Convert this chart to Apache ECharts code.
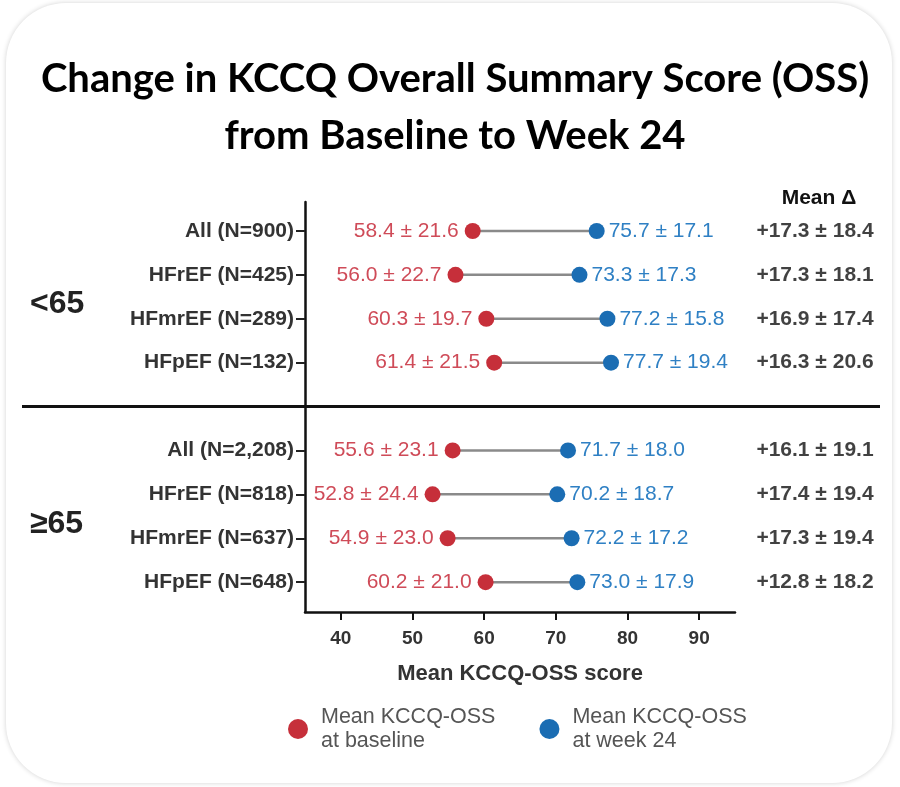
<!DOCTYPE html>
<html>
<head>
<meta charset="utf-8">
<script src="https://cdn.jsdelivr.net/npm/echarts@6/dist/echarts.min.js"></script>
<style>
  html, body { margin: 0; padding: 0; background: #fff; }
  #card {
    position: absolute; left: 6px; top: 3px; width: 886px; height: 780px;
    border-radius: 60px; background: #fff;
    box-shadow: 0 0 5px rgba(0, 0, 0, 0.18);
  }
  #chart { position: absolute; left: 0; top: 0; width: 900px; height: 787px; }
</style>
</head>
<body>
<div id="card"></div>
<div id="chart"></div>
<script>
// ====== Data ======
const categories = [
  'All (N=900)', 'HFrEF (N=425)', 'HFmrEF (N=289)', 'HFpEF (N=132)',
  'All (N=2,208)', 'HFrEF (N=818)', 'HFmrEF (N=637)', 'HFpEF (N=648)'
];
const baselineMean = [58.4, 56.0, 60.3, 61.4, 55.6, 52.8, 54.9, 60.2];
const baselineSD = [21.6, 22.7, 19.7, 21.5, 23.1, 24.4, 23.0, 21.0];
const week24Mean = [75.7, 73.3, 77.2, 77.7, 71.7, 70.2, 72.2, 73.0];
const week24SD = [17.1, 17.3, 15.8, 19.4, 18.0, 18.7, 17.2, 17.9];
const deltaMean = [17.3, 17.3, 16.9, 16.3, 16.1, 17.4, 17.3, 12.8];
const deltaSD = [18.4, 18.1, 17.4, 20.6, 19.1, 19.4, 19.4, 18.2];
const xTicks = [40, 50, 60, 70, 80, 90];

// row slot for each category (slot 4 holds the age divider)
const rows = categories.map((c, i) => (i < 4 ? i : i + 1));

const RED = '#c62f3a';
const BLUE = '#1b6db3';
const FONT = '"Liberation Sans", Arial, sans-serif';

const chart = echarts.init(document.getElementById('chart'));

const yRange = { min: -0.66, max: 8.68 };

const option = {
  backgroundColor: 'transparent',
  animation: false,
  title: [
    {
      text: 'Change in KCCQ Overall Summary Score (OSS)\nfrom Baseline to Week 24',
      left: 450,
      top: 46,
      textAlign: 'center',
      textStyle: {
        fontFamily: 'Lato, "Open Sans", sans-serif',
        fontWeight: 'bold',
        fontSize: 40,
        lineHeight: 57,
        color: '#000'
      }
    },
    {
      text: 'Mean Δ',
      left: 814,
      top: 183,
      textAlign: 'center',
      textStyle: { fontFamily: FONT, fontWeight: 'bold', fontSize: 21, color: '#111' }
    },
    {
      text: '<65',
      left: 25,
      top: 283,
      textStyle: { fontFamily: FONT, fontWeight: 'bold', fontSize: 32, color: '#222' }
    },
    {
      text: '≥65',
      left: 25,
      top: 503,
      textStyle: { fontFamily: FONT, fontWeight: 'bold', fontSize: 32, color: '#222' }
    }
  ],
  legend: {
    left: 283,
    top: 700,
    itemGap: 44,
    itemWidth: 20,
    itemHeight: 20,
    icon: 'circle',
    data: ['Mean KCCQ-OSS\nat baseline', 'Mean KCCQ-OSS\nat week 24'],
    textStyle: { fontFamily: FONT, fontSize: 21.5, lineHeight: 24, color: '#555', padding: [0, 0, 0, 8] }
  },
  grid: [
    { left: 305, top: 202, width: 430, height: 410 },
    { left: 755, top: 202, width: 120, height: 410 }
  ],
  xAxis: [
    {
      gridIndex: 0,
      type: 'value',
      min: 35,
      max: 95,
      splitLine: { show: false },
      axisLine: { show: true, onZero: false, lineStyle: { color: '#111', width: 2.5 } },
      axisTick: { show: true, customValues: xTicks, length: 8, lineStyle: { color: '#111', width: 2 } },
      axisLabel: {
        customValues: xTicks,
        margin: 17,
        fontFamily: FONT,
        fontWeight: 'bold',
        fontSize: 19,
        color: '#333'
      },
      name: 'Mean KCCQ-OSS score',
      nameLocation: 'middle',
      nameGap: 51,
      nameTextStyle: { fontFamily: FONT, fontWeight: 'bold', fontSize: 22, color: '#333' }
    },
    { gridIndex: 1, type: 'value', min: 0, max: 1, show: false }
  ],
  yAxis: [
    {
      gridIndex: 0,
      type: 'value',
      inverse: true,
      min: yRange.min,
      max: yRange.max,
      splitLine: { show: false },
      axisLine: { show: true, onZero: false, lineStyle: { color: '#111', width: 2.5 } },
      axisTick: { show: true, customValues: rows, length: 9, lineStyle: { color: '#222', width: 2 } },
      axisLabel: {
        customValues: rows,
        margin: 11,
        fontFamily: FONT,
        fontWeight: 'bold',
        fontSize: 21,
        color: '#333',
        formatter: (v) => categories[rows.indexOf(Math.round(v))] || ''
      }
    },
    { gridIndex: 1, type: 'value', inverse: true, min: yRange.min, max: yRange.max, show: false }
  ],
  series: [
    {
      // connector between baseline and week 24
      type: 'custom',
      xAxisIndex: 0,
      yAxisIndex: 0,
      silent: true,
      z: 1,
      data: categories.map((c, i) => [baselineMean[i], week24Mean[i], rows[i]]),
      renderItem: (params, api) => {
        const p1 = api.coord([api.value(0), api.value(2)]);
        const p2 = api.coord([api.value(1), api.value(2)]);
        return {
          type: 'line',
          shape: { x1: p1[0], y1: p1[1], x2: p2[0], y2: p2[1] },
          style: { stroke: '#8a8a8a', lineWidth: 2.5 }
        };
      }
    },
    {
      name: 'Mean KCCQ-OSS\nat baseline',
      type: 'scatter',
      xAxisIndex: 0,
      yAxisIndex: 0,
      z: 3,
      symbolSize: 16,
      itemStyle: { color: RED, opacity: 1 },
      data: categories.map((c, i) => [baselineMean[i], rows[i]]),
      label: {
        show: true,
        position: 'left',
        distance: 6,
        fontFamily: FONT,
        fontSize: 21,
        color: '#cf4b58',
        formatter: (p) => `${baselineMean[p.dataIndex].toFixed(1)} ± ${baselineSD[p.dataIndex].toFixed(1)}`
      }
    },
    {
      name: 'Mean KCCQ-OSS\nat week 24',
      type: 'scatter',
      xAxisIndex: 0,
      yAxisIndex: 0,
      z: 3,
      symbolSize: 16,
      itemStyle: { color: BLUE, opacity: 1 },
      data: categories.map((c, i) => [week24Mean[i], rows[i]]),
      label: {
        show: true,
        position: 'right',
        distance: 4,
        fontFamily: FONT,
        fontSize: 21,
        color: '#2f80c4',
        formatter: (p) => `${week24Mean[p.dataIndex].toFixed(1)} ± ${week24SD[p.dataIndex].toFixed(1)}`
      }
    },
    {
      name: 'delta',
      type: 'scatter',
      xAxisIndex: 1,
      yAxisIndex: 1,
      symbolSize: 2,
      itemStyle: { color: 'rgba(0,0,0,0)' },
      data: categories.map((c, i) => [0.5, rows[i]]),
      label: {
        show: true,
        position: 'inside',
        fontFamily: FONT,
        fontWeight: 'bold',
        fontSize: 21,
        color: '#111',
        formatter: (p) => `+${deltaMean[p.dataIndex].toFixed(1)} ± ${deltaSD[p.dataIndex].toFixed(1)}`
      }
    }
  ]
};

chart.setOption(option);

// Age-group divider across the whole panel
const dividerY = chart.convertToPixel({ gridIndex: 0 }, [35, 4])[1];
chart.setOption({
  graphic: [
    {
      type: 'line',
      shape: { x1: 22, y1: dividerY, x2: 880, y2: dividerY },
      style: { stroke: '#111', lineWidth: 3 },
      z: 10
    }
  ]
});
</script>
</body>
</html>
